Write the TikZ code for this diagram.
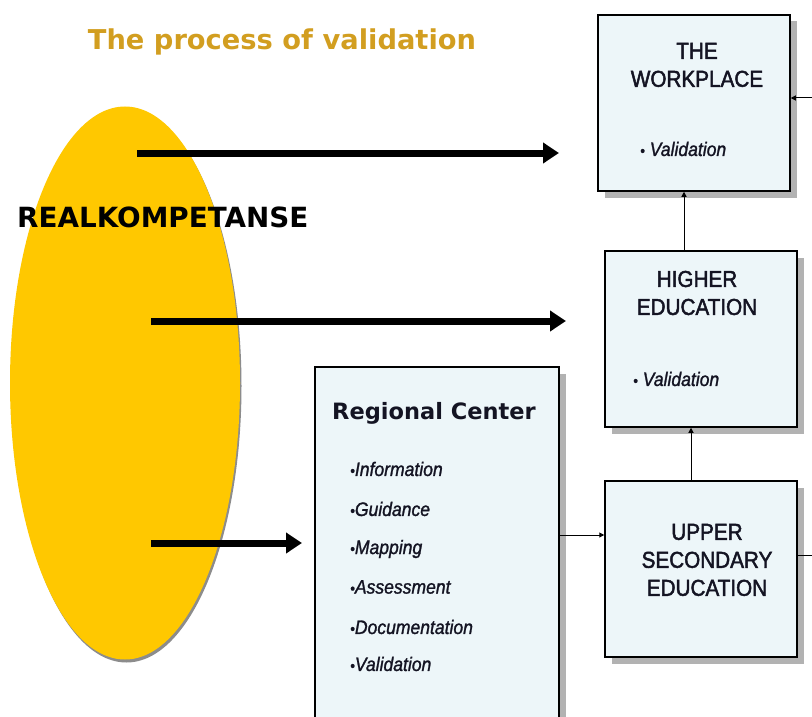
\documentclass[tikz,border=0pt]{standalone}
\usepackage{fontspec}
\setmainfont{Liberation Sans}
\newfontfamily\verd{DejaVu Sans}
\newfontfamily\narrowheavy[FakeStretch=0.9,FakeBold=2]{Liberation Sans}
\newfontfamily\narrowitem[FakeStretch=0.9,FakeBold=1.3]{Liberation Sans}
\usetikzlibrary{arrows.meta,shapes.geometric,shadows}

\definecolor{gold}{RGB}{210,158,32}
\definecolor{sun}{RGB}{255,200,0}
\definecolor{boxfill}{RGB}{237,246,249}
\definecolor{shade}{RGB}{178,178,178}
\definecolor{ink}{RGB}{20,20,35}

\newcommand{\dotmark}{{\fontsize{15}{15}\selectfont\textbullet}}

\tikzset{
  stage/.style={draw=black, line width=1.5pt, fill=boxfill, rectangle,
    inner sep=0pt, minimum width=192pt, minimum height=176pt,
    drop shadow={shadow xshift=6.5pt, shadow yshift=-6.5pt, fill=shade, opacity=1}},
  stagetitle/.style={font=\narrowheavy\fontsize{23}{28}\selectfont, text=ink,
    align=center, inner sep=0pt},
  item/.style={font=\narrowitem\itshape\fontsize{19.5}{22}\selectfont, text=ink,
    anchor=west, inner sep=0pt},
  bigarrow/.style={line width=7pt, -{Triangle[length=16pt,width=20pt]}},
  conn/.style={line width=1pt, -{Triangle[length=5pt,width=5pt]}}
}

\begin{document}
\begin{tikzpicture}[x=1pt, y=-1pt]
\useasboundingbox (0,0) rectangle (812,717);
\clip (0,0) rectangle (812,717);

% title
\node[text=gold, font=\verd\bfseries\fontsize{27.3}{30}\selectfont, inner sep=0pt]
  (title) at (282,42) {The process of validation};

% yellow ellipse
\node[ellipse, fill=sun, minimum width=230pt, minimum height=553pt, inner sep=0pt,
  drop shadow={shadow xshift=1.5pt, shadow yshift=-3pt, fill=black!45, opacity=1}]
  (real) at (125,383) {};
\node[font=\verd\bfseries\fontsize{27.8}{30}\selectfont, anchor=west, inner sep=0pt]
  (realtxt) at (17,217) {REALKOMPETANSE};

% boxes
\node[stage] (wp) at (694,103) {};
\node[stage] (he) at (701,339) {};
\node[stage] (us) at (701,569) {};
\node[stage, minimum width=244pt, minimum height=420pt] (rc) at (437,577) {};

% box texts
\node[stagetitle] (wpt) at (697,65) {THE\\WORKPLACE};
\node[item] (wpi) at (640,149) {\dotmark\ Validation};

\node[stagetitle] (het) at (697,293) {HIGHER\\EDUCATION};
\node[item] (hei) at (633,379) {\dotmark\ Validation};

\node[stagetitle] (ust) at (707,560) {UPPER\\SECONDARY\\EDUCATION};

\node[font=\verd\bfseries\fontsize{22.5}{26}\selectfont, text=ink, inner sep=0pt]
  (rct) at (434,413) {Regional Center};
\node[item] (rc1) at (350,469) {\dotmark Information};
\node[item] (rc2) at (350,509) {\dotmark Guidance};
\node[item] (rc3) at (350,549) {\dotmark Mapping};
\node[item] (rc4) at (350,587) {\dotmark Assessment};
\node[item] (rc5) at (350,627) {\dotmark Documentation};
\node[item] (rc6) at (350,664) {\dotmark Validation};

% thick arrows out of the ellipse
\coordinate (s1) at (137,153); \coordinate (e1) at (559,153);
\coordinate (s2) at (151,321); \coordinate (e2) at (566,321);
\coordinate (s3) at (151,543); \coordinate (e3) at (302,543);
\draw[bigarrow] (s1) -- (e1);
\draw[bigarrow] (s2) -- (e2);
\draw[bigarrow] (s3) -- (e3);

% thin connectors between boxes
\coordinate (c1) at (684,0);
\coordinate (c2) at (691,0);
\coordinate (c3) at (0,535);
\draw[conn] (he.north -| c1) -- (wp.south -| c1);
\draw[conn] (us.north -| c2) -- (he.south -| c2);
\draw[conn] (rc.east |- c3) -- (us.west |- c3);

% loop leaving on the right
\coordinate (r1) at (0,555);
\coordinate (r2) at (0,98);
\coordinate (rx) at (840,0);
\draw[conn] (us.east |- r1) -- (rx |- r1) -- (rx |- r2) -- (wp.east |- r2);
\end{tikzpicture}
\end{document}
